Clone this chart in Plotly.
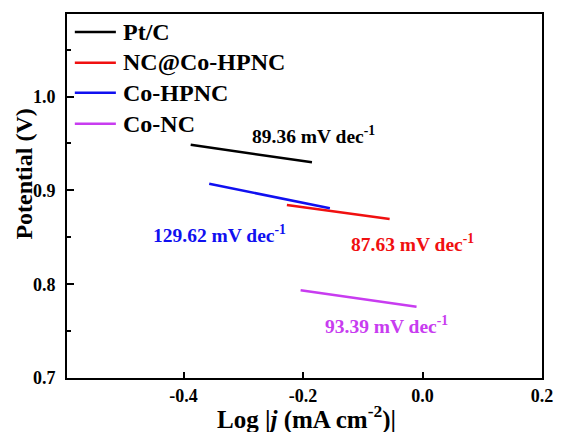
import plotly.graph_objects as go

# Data (Tafel fit segments)
series_names = ["Pt/C", "NC@Co-HPNC", "Co-HPNC", "Co-NC"]
series_colors = ["#000000", "#f01010", "#1010f0", "#c83cf0"]
x_vals = [
    [-0.388, -0.185],
    [-0.227, -0.055],
    [-0.357, -0.155],
    [-0.204, -0.010],
]
y_vals = [
    [0.9486, 0.9300],
    [0.8844, 0.8695],
    [0.9070, 0.8810],
    [0.7936, 0.7759],
]
slope_labels = ["89.36 mV dec<sup>-1</sup>", "87.63 mV dec<sup>-1</sup>",
                "129.62 mV dec<sup>-1</sup>", "93.39 mV dec<sup>-1</sup>"]
# label anchor positions (data coords)
label_x = [-0.182, -0.017, -0.339, -0.061]
label_y = [0.9585, 0.8436, 0.854, 0.7564]

x_ticks = [-0.4, -0.2, 0.0, 0.2]
y_ticks = [0.7, 0.8, 0.9, 1.0]

FONT = "Liberation Serif"
W, H = 565, 432
L, R, T, B = 67, 12, 13, 54


def px2paper_x(px):
    return (px - L) / (W - L - R)


def px2paper_y(py):
    return (H - B - py) / (H - T - B)


fig = go.Figure()
for name, col, xs, ys in zip(series_names, series_colors, x_vals, y_vals):
    fig.add_trace(go.Scatter(x=xs, y=ys, mode="lines", name=name, showlegend=False,
                             line=dict(color=col, width=2.5)))

for txt, col, lx, ly in zip(slope_labels, series_colors, label_x, label_y):
    fig.add_annotation(x=lx, y=ly, xref="x", yref="y", text=txt, showarrow=False,
                       xanchor="center", yanchor="middle",
                       font=dict(family=FONT, size=19.5, color=col, weight="bold"))

# legend drawn as sample lines + labels
legend_rows_px = [31, 62, 92, 123]
for name, col, ry in zip(series_names, series_colors, legend_rows_px):
    fig.add_shape(type="line", xref="paper", yref="paper",
                  x0=px2paper_x(75), x1=px2paper_x(117),
                  y0=px2paper_y(ry), y1=px2paper_y(ry),
                  line=dict(color=col, width=2.5))
    fig.add_annotation(x=px2paper_x(122), y=px2paper_y(ry), xref="paper", yref="paper",
                       text=name, showarrow=False, xanchor="left", yanchor="middle",
                       font=dict(family=FONT, size=24, color="black", weight="bold"))

fig.add_annotation(x=px2paper_x(23), y=px2paper_y(173), xref="paper", yref="paper",
                   text="Potential (V)", textangle=-90, showarrow=False,
                   xanchor="center", yanchor="middle",
                   font=dict(family=FONT, size=24, color="black", weight="bold"))
fig.add_annotation(x=px2paper_x(312), y=px2paper_y(418), xref="paper", yref="paper",
                   text="Log |<i>j</i> (mA cm<sup>-2</sup>)|", showarrow=False,
                   xanchor="center", yanchor="middle",
                   font=dict(family=FONT, size=25, color="black", weight="bold"))

axis_common = dict(showline=True, linecolor="black", linewidth=2, mirror=True,
                   ticks="inside", tickcolor="black", tickwidth=2, showgrid=False,
                   zeroline=False,
                   tickfont=dict(family=FONT, size=18, color="black", weight="bold"))

fig.update_xaxes(range=[-0.595, 0.2], tickvals=x_ticks,
                 ticktext=[f"{v:.1f}" for v in x_ticks], ticklen=6,
                 ticklabelstandoff=0, **axis_common)
fig.update_yaxes(range=[0.7, 1.088], tickvals=y_ticks,
                 ticktext=[f"{v:.1f}" for v in y_ticks], ticklen=7,
                 ticklabelstandoff=6,
                 minor=dict(ticks="inside", ticklen=4, tickwidth=2, tickcolor="black",
                            tickvals=[0.75, 0.85, 0.95, 1.05]),
                 **axis_common)

fig.update_layout(
    width=W, height=H,
    margin=dict(l=L, r=R, t=T, b=B),
    paper_bgcolor="white", plot_bgcolor="white",
    showlegend=False,
)

fig.write_html("out.html")
